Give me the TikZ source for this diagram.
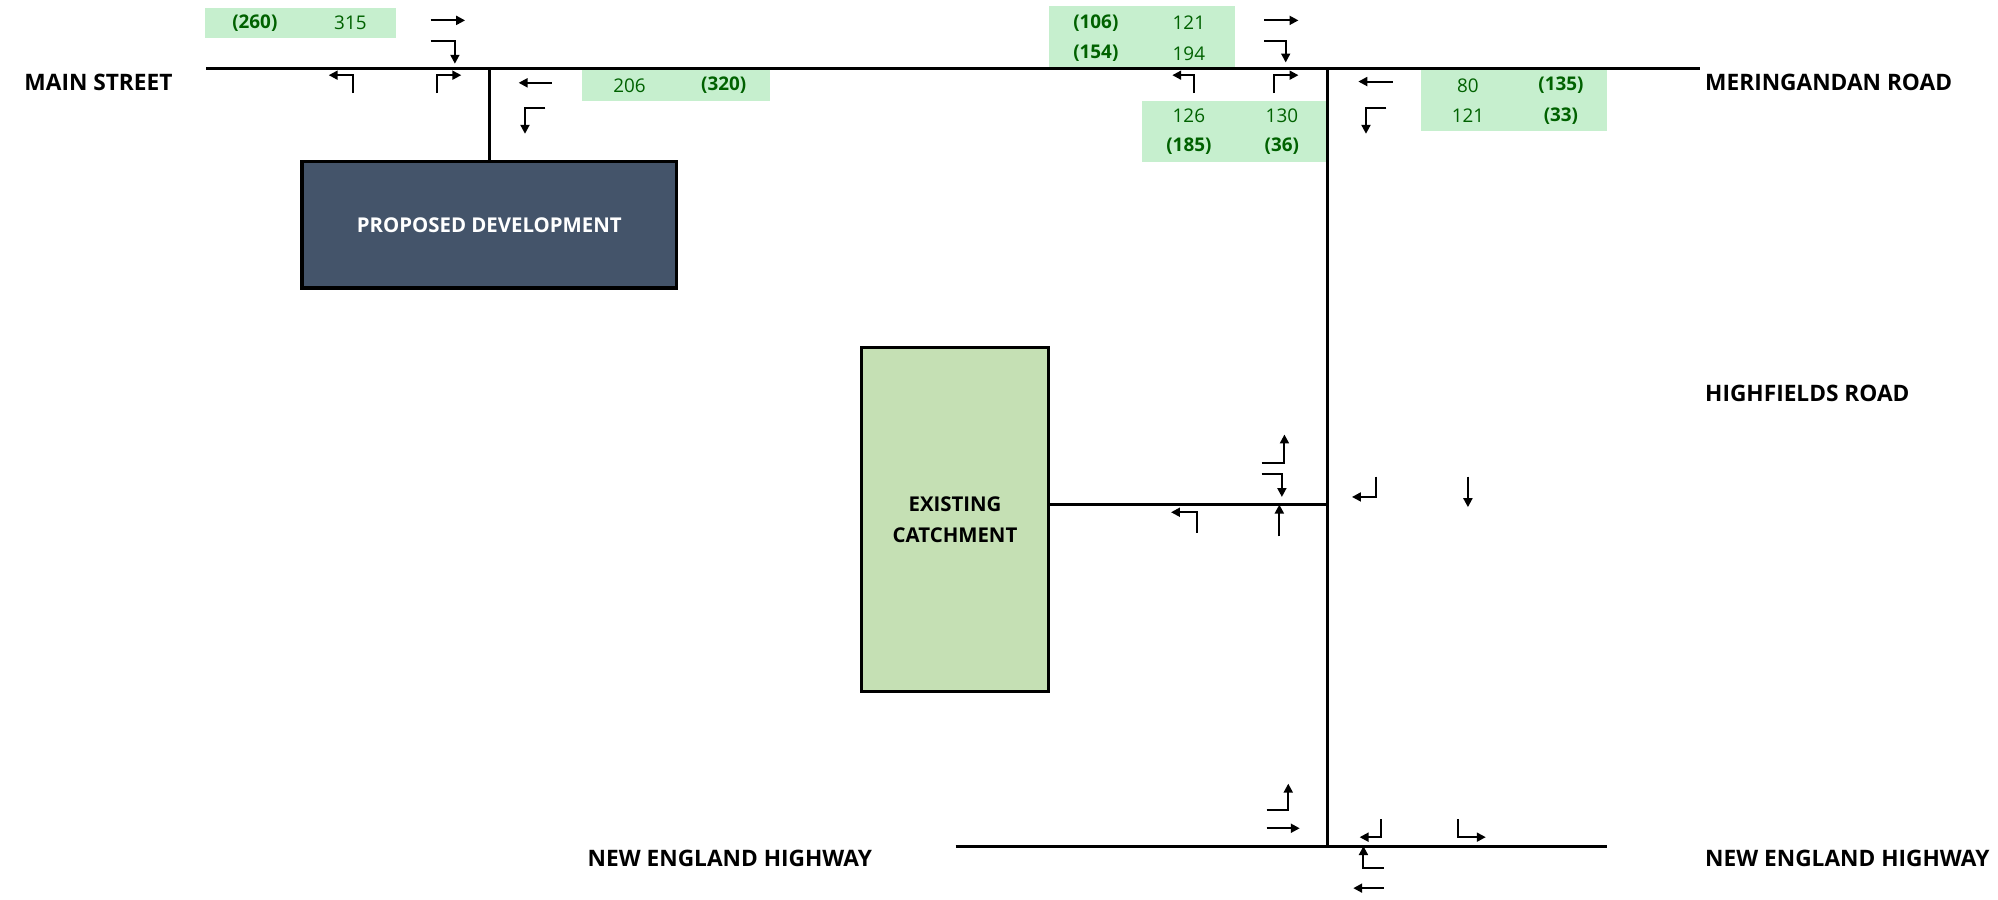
\documentclass[tikz,border=0pt]{standalone}
\usepackage{fontspec}
\setmainfont{Open Sans}
\usetikzlibrary{arrows.meta}
\definecolor{goodfill}{HTML}{C6EFCE}
\definecolor{goodtext}{HTML}{006100}
\definecolor{devfill}{HTML}{44546A}
\definecolor{exfill}{HTML}{C5E0B4}
\tikzset{
  road/.style={line width=2.4pt},
  arr/.style={line width=1.6pt, -{Triangle[length=7pt,width=7pt]}},
  gbox/.style={fill=goodfill, draw=none, inner sep=0pt},
  num/.style={text=goodtext, font=\fontsize{14.8}{17}\selectfont, inner sep=0pt},
  bnum/.style={num, font=\fontsize{14.8}{17}\selectfont\bfseries},
  lbl/.style={font=\fontsize{17.8}{20}\selectfont\bfseries, inner sep=0pt, anchor=west},
  bigbox/.style={draw=black, line width=2.4pt, inner sep=0pt, align=center,
    font=\fontsize{16}{24}\selectfont\bfseries}
}
\begin{document}
\begin{tikzpicture}[x=1pt,y=-1pt]
\useasboundingbox (0,0) rectangle (1568,706);

% green count boxes
\node[gbox, minimum width=150pt, minimum height=24pt] (bA) at (236,18) {};
\node[gbox, minimum width=147pt, minimum height=24pt] (bB) at (530.5,67) {};
\node[gbox, minimum width=146pt, minimum height=48pt] (bC) at (896,29) {};
\node[gbox, minimum width=146pt, minimum height=48pt] (bD) at (969,103) {};
\node[gbox, minimum width=146pt, minimum height=48pt] (bE) at (1188,79) {};

\node[bnum] (a1) at (200,18) {(260)};
\node[num]  (a2) at (275,18) {315};
\node[num]  (b1) at (494,67) {206};
\node[bnum] (b2) at (568,67) {(320)};
\node[bnum] (c1) at (860,18) {(106)};
\node[num]  (c2) at (933,18) {121};
\node[bnum] (c3) at (860,42) {(154)};
\node[num]  (c4) at (933,42) {194};
\node[num]  (d1) at (933,91) {126};
\node[num]  (d2) at (1006,91) {130};
\node[bnum] (d3) at (933,115) {(185)};
\node[bnum] (d4) at (1006,115) {(36)};
\node[num]  (e1) at (1152,67) {80};
\node[bnum] (e2) at (1225,67) {(135)};
\node[num]  (e3) at (1152,91) {121};
\node[bnum] (e4) at (1225,91) {(33)};

% blocks
\node[bigbox, fill=devfill, text=white, minimum width=294pt, minimum height=99pt] (dev) at (384,176.5) {PROPOSED DEVELOPMENT};
\node[bigbox, fill=exfill, text=black, minimum width=147pt, minimum height=270pt] (exist) at (749.5,408) {EXISTING\\CATCHMENT};

% road coordinates
\coordinate (msw) at (162,54);
\coordinate (mre) at (1334,54);
\coordinate (i1) at (384,54);
\coordinate (i2) at (1042,54);
\coordinate (i3) at (1042,396);
\coordinate (i4) at (1042,664);
\coordinate (nehw) at (750,664);
\coordinate (nehe) at (1261,664);

\draw[road] (msw) -- (mre);
\draw[road] (i1) -- (dev.north);
\draw[road] (i2) -- (i4);
\draw[road] (exist.east |- i3) -- (i3);
\draw[road] (nehw) -- (nehe);

% road labels
\node[lbl] (lms) at (19,65) {MAIN STREET};
\node[lbl] (lmr) at (1338,65) {MERINGANDAN ROAD};
\node[lbl] (lhr) at (1338,309) {HIGHFIELDS ROAD};
\node[lbl] (lne) at (1338,674) {NEW ENGLAND HIGHWAY};
\node[lbl] (lnw) at (461,674) {NEW ENGLAND HIGHWAY};

% Main Street intersection movements
\draw[arr] (338,16) -- (365,16);
\draw[arr] (338,32) -- (357,32) -- (357,50);
\draw[arr] (277,73) -- (277,59) -- (258,59);
\draw[arr] (343,73) -- (343,59) -- (362,59);
\draw[arr] (433,65) -- (407,65);
\draw[arr] (428,85) -- (412,85) -- (412,105);

% Meringandan Road intersection movements
\draw[arr] (992,16) -- (1019,16);
\draw[arr] (992,32) -- (1009,32) -- (1009,49);
\draw[arr] (937,73) -- (937,59) -- (920,59);
\draw[arr] (1000,73) -- (1000,59) -- (1019,59);
\draw[arr] (1093,64) -- (1066,64);
\draw[arr] (1088,85) -- (1072,85) -- (1072,105);

% Highfields Road intersection movements
\draw[arr] (990,363) -- (1008,363) -- (1008,341);
\draw[arr] (990,372) -- (1006,372) -- (1006,390);
\draw[arr] (939,418) -- (939,402) -- (919,402);
\draw[arr] (1004,421) -- (1004,396);
\draw[arr] (1080,374) -- (1080,390) -- (1061,390);
\draw[arr] (1152,374) -- (1152,398);

% New England Highway intersection movements
\draw[arr] (994,636) -- (1011,636) -- (1011,615);
\draw[arr] (994,650) -- (1020,650);
\draw[arr] (1084,643) -- (1084,657) -- (1067,657);
\draw[arr] (1144,643) -- (1144,657) -- (1166,657);
\draw[arr] (1086,681) -- (1070,681) -- (1070,664);
\draw[arr] (1086,697) -- (1062,697);
\end{tikzpicture}
\end{document}
